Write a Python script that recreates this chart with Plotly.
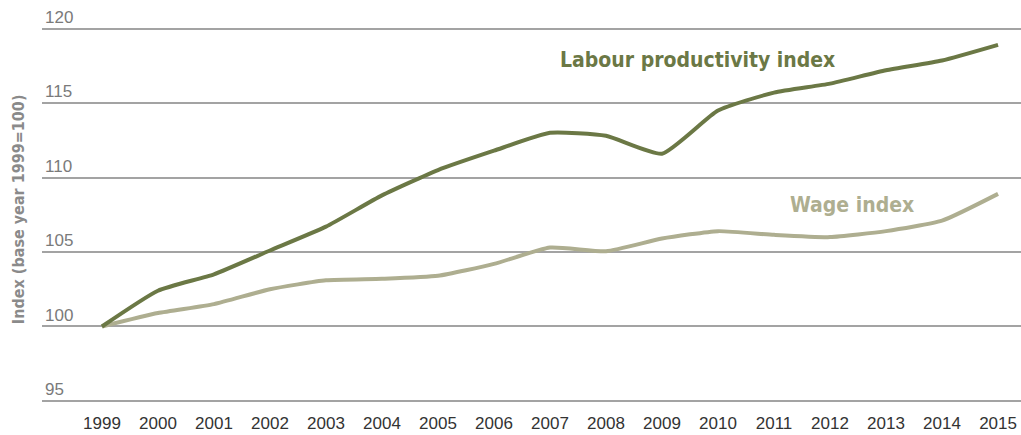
import plotly.graph_objects as go

years = list(range(1999, 2016))
productivity = [100, 102.4, 103.5, 105.1, 106.7, 108.8, 110.5, 111.8, 113.0, 112.8,
                111.6, 114.5, 115.7, 116.3, 117.2, 117.85, 118.9]
wages = [100, 100.9, 101.5, 102.5, 103.1, 103.2, 103.4, 104.2, 105.3, 105.05,
         105.9, 106.4, 106.15, 106.0, 106.4, 107.1, 108.9]
y_ticks = [95, 100, 105, 110, 115, 120]

PROD_COL = "#6b7845"
WAGE_COL = "#aeae90"
COND = "Liberation Sans Narrow, DejaVu Sans Condensed, Liberation Sans, sans-serif"

fig = go.Figure()
fig.add_trace(go.Scatter(x=years, y=wages, mode="lines",
                         line=dict(color=WAGE_COL, width=4, shape="spline", smoothing=0.5),
                         showlegend=False, hoverinfo="skip"))
fig.add_trace(go.Scatter(x=years, y=productivity, mode="lines",
                         line=dict(color=PROD_COL, width=4, shape="spline", smoothing=0.5),
                         showlegend=False, hoverinfo="skip"))

fig.add_annotation(x=2009.64, y=117.9, xref="x", yref="y", text="<b>Labour productivity index</b>",
                   showarrow=False, font=dict(family=COND, size=21, color=PROD_COL))
fig.add_annotation(x=2012.39, y=108.15, xref="x", yref="y", text="<b>Wage index</b>",
                   showarrow=False, font=dict(family=COND, size=21, color=WAGE_COL))
fig.add_annotation(x=-0.0245, y=0.486, xref="paper", yref="paper", text="<b>Index (base year 1999=100)</b>",
                   textangle=-90, showarrow=False, xanchor="center", yanchor="middle",
                   font=dict(family=COND, size=16, color="#8a8a8a"))

fig.update_layout(
    width=1021, height=435,
    margin=dict(l=42, r=0, t=2, b=30),
    paper_bgcolor="white", plot_bgcolor="white",
    font=dict(family="Liberation Sans, Arial, sans-serif"),
    xaxis=dict(range=[1997.93, 2015.41], tickmode="array", tickvals=years,
               ticktext=[str(y) for y in years], showgrid=False, zeroline=False,
               showline=False, ticks="", ticklabelstandoff=6,
               tickfont=dict(size=17, color="#333333")),
    yaxis=dict(range=[94.73, 121.78], tickmode="array", tickvals=y_ticks,
               ticktext=[str(v) for v in y_ticks], showgrid=True, gridcolor="#a3a3a3",
               gridwidth=2, zeroline=False, showline=False, ticks="",
               ticklabelposition="inside top", tickfont=dict(size=17, color="#7a7a7a")),
)

fig.write_html("out.html", config={"displayModeBar": False},
               post_script="document.body.style.margin='0';")
